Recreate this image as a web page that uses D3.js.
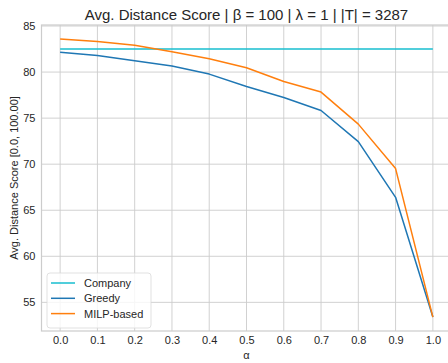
<!DOCTYPE html>
<html>
<head>
<meta charset="utf-8">
<script src="https://cdn.jsdelivr.net/npm/d3@7"></script>
<style>
  body { margin: 0; background: #fff; }
  svg { display: block; font-family: "Liberation Sans", Arial, sans-serif; }
</style>
</head>
<body>
<svg class="chart"></svg>
<script>
// data
const alphas = [0.0, 0.1, 0.2, 0.3, 0.4, 0.5, 0.6, 0.7, 0.8, 0.9, 1.0];
const company = [82.5, 82.5, 82.5, 82.5, 82.5, 82.5, 82.5, 82.5, 82.5, 82.5, 82.5];
const greedy = [82.15, 81.8, 81.23, 80.65, 79.78, 78.44, 77.24, 75.83, 72.45, 66.4, 53.4];
const milp = [83.6, 83.33, 82.9, 82.2, 81.45, 80.47, 78.98, 77.83, 74.35, 69.52, 53.4];
const seriesNames = ['Company', 'Greedy', 'MILP-based'];
const seriesColors = ['#17becf', '#1f77b4', '#ff7f0e'];
const yTicks = [55, 60, 65, 70, 75, 80, 85];

const svgWidth = 448;
const svgHeight = 363;
const margin = { top: 25, left: 41.5 };
const chartWidth = 410;   // axes run past the right edge of the image
const chartHeight = 306;
const fontFam = '"Liberation Sans", Arial, sans-serif';

const svg = d3.select('.chart')
  .attr('width', svgWidth)
  .attr('height', svgHeight);

const chart = svg.append('g')
  .attr('transform', 'translate(' + margin.left + ',' + margin.top + ')');

const xScale = d3.scaleLinear()
  .domain([-0.05, 1.05])
  .range([0, chartWidth]);

const yScale = d3.scaleLinear()
  .domain([51.89, 85.11])
  .range([chartHeight, 0]);

// grid
chart.append('g')
  .selectAll('line')
  .data(alphas)
  .enter()
  .append('line')
  .attr('x1', d => xScale(d)).attr('x2', d => xScale(d))
  .attr('y1', 0).attr('y2', chartHeight)
  .attr('stroke', '#cccccc').attr('stroke-width', 0.9);

chart.append('g')
  .selectAll('line')
  .data(yTicks)
  .enter()
  .append('line')
  .attr('x1', 0).attr('x2', chartWidth)
  .attr('y1', d => yScale(d)).attr('y2', d => yScale(d))
  .attr('stroke', '#cccccc').attr('stroke-width', 0.9);

// spines
chart.append('rect')
  .attr('x', 0).attr('y', 0)
  .attr('width', chartWidth).attr('height', chartHeight)
  .attr('fill', 'none')
  .attr('stroke', '#cccccc')
  .attr('stroke-width', 1.2);

// axes (labels only, whitegrid style has no tick marks)
const xAxisGroup = chart.append('g')
  .attr('transform', 'translate(0,' + chartHeight + ')')
  .call(d3.axisBottom(xScale).tickValues(alphas).tickFormat(d3.format('.1f')).tickSize(0).tickPadding(5));
xAxisGroup.select('.domain').remove();
xAxisGroup.selectAll('text').attr('fill', '#262626').attr('font-size', '11px')
  .attr('font-family', fontFam);

const yAxisGroup = chart.append('g')
  .call(d3.axisLeft(yScale).tickValues(yTicks).tickSize(0).tickPadding(6));
yAxisGroup.select('.domain').remove();
yAxisGroup.selectAll('text').attr('fill', '#262626').attr('font-size', '11px')
  .attr('font-family', fontFam);

// lines
const allSeries = [company, greedy, milp];
const line = d3.line()
  .x((d, i) => xScale(alphas[i]))
  .y(d => yScale(d));

allSeries.forEach((vals, k) => {
  chart.append('path')
    .datum(vals)
    .attr('fill', 'none')
    .attr('stroke', seriesColors[k])
    .attr('stroke-width', 1.5)
    .attr('stroke-linejoin', 'round')
    .attr('d', line);
});

// title and axis labels
svg.append('text')
  .attr('x', margin.left + chartWidth / 2)
  .attr('y', 20)
  .attr('text-anchor', 'middle')
  .attr('font-size', '15px')
  .attr('fill', '#262626')
  .text('Avg. Distance Score | β = 100 | λ = 1 | |T| = 3287');

svg.append('text')
  .attr('x', margin.left + chartWidth / 2)
  .attr('y', 359)
  .attr('text-anchor', 'middle')
  .attr('font-size', '11px')
  .attr('fill', '#262626')
  .text('α');

svg.append('text')
  .attr('transform', 'rotate(-90)')
  .attr('x', -(margin.top + chartHeight / 2))
  .attr('y', 18)
  .attr('text-anchor', 'middle')
  .attr('font-size', '11px')
  .attr('fill', '#262626')
  .text('Avg. Distance Score [0.0, 100.00]');

// legend
const legend = svg.append('g')
  .attr('transform', 'translate(47,273)');

legend.append('rect')
  .attr('width', 104).attr('height', 55)
  .attr('rx', 3)
  .attr('fill', 'rgba(255,255,255,0.8)')
  .attr('stroke', '#d9d9d9')
  .attr('stroke-width', 0.8);

seriesNames.forEach((name, i) => {
  const yy = 10 + i * 15.3;
  legend.append('line')
    .attr('x1', 4).attr('x2', 28)
    .attr('y1', yy).attr('y2', yy)
    .attr('stroke', seriesColors[i])
    .attr('stroke-width', 1.5);
  legend.append('text')
    .attr('x', 37).attr('y', yy + 4)
    .attr('font-size', '11px')
    .attr('fill', '#262626')
    .text(name);
});
</script>
</body>
</html>
